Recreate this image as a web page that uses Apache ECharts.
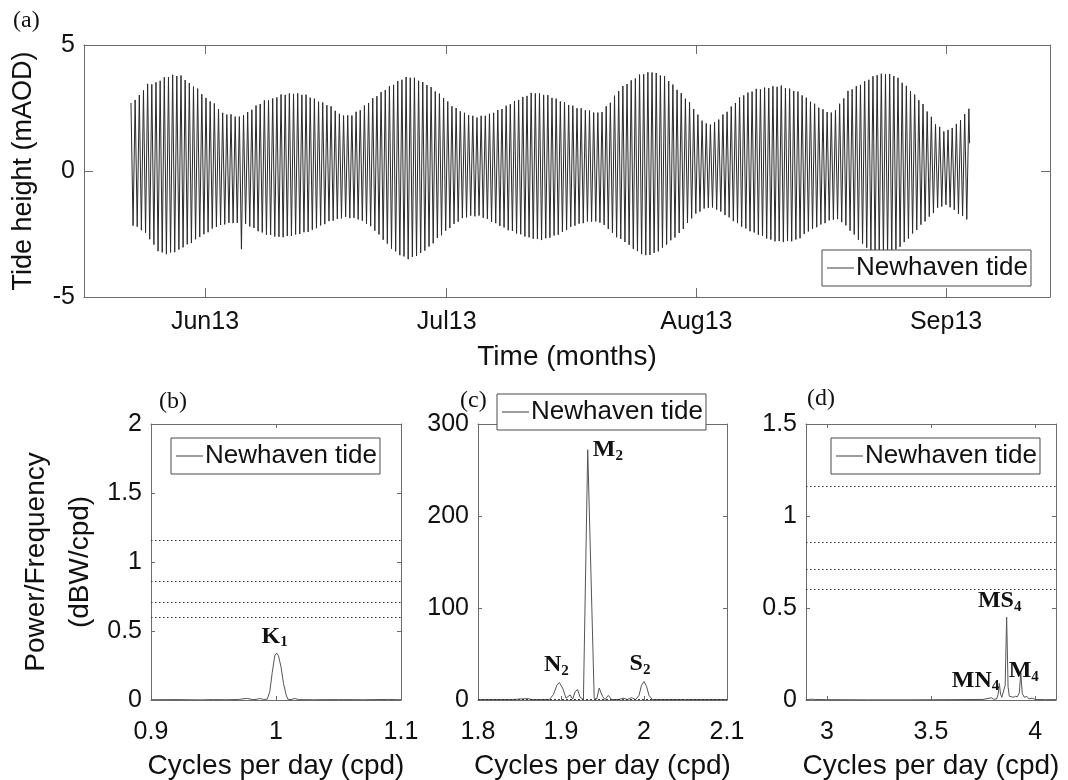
<!DOCTYPE html>
<html>
<head>
<meta charset="utf-8">
<title>Newhaven tide</title>
<script src="https://cdn.jsdelivr.net/npm/echarts@6/dist/echarts.min.js"></script>
<style>
  html, body { margin: 0; padding: 0; background: #fff; }
  #chart { width: 1068px; height: 780px; }
</style>
</head>
<body>
<div id="chart"></div>
<script>
// (a) high / low water of each tide (mAOD)
const tideHighs = [
  2.70, 2.82, 3.01, 3.20, 3.46, 3.44, 3.52, 3.58, 3.72, 3.73,
  3.82, 3.77, 3.79, 3.61, 3.49, 3.35, 3.27, 3.05, 2.90, 2.76,
  2.68, 2.46, 2.31, 2.24, 2.25, 2.16, 2.16, 2.21, 2.34, 2.43,
  2.60, 2.66, 2.80, 2.80, 2.88, 2.92, 3.04, 3.02, 3.08, 3.06,
  3.08, 3.02, 3.03, 2.91, 2.87, 2.75, 2.72, 2.61, 2.57, 2.39,
  2.27, 2.20, 2.21, 2.20, 2.35, 2.41, 2.60, 2.70, 2.89, 2.97,
  3.13, 3.21, 3.36, 3.42, 3.57, 3.62, 3.73, 3.70, 3.70, 3.58,
  3.53, 3.41, 3.33, 3.16, 3.07, 2.89, 2.76, 2.57, 2.50, 2.37,
  2.31, 2.21, 2.19, 2.12, 2.19, 2.19, 2.27, 2.31, 2.42, 2.46,
  2.59, 2.65, 2.78, 2.82, 2.94, 2.98, 3.10, 3.08, 3.08, 3.02,
  3.01, 2.90, 2.87, 2.76, 2.73, 2.62, 2.59, 2.49, 2.49, 2.41,
  2.40, 2.32, 2.32, 2.34, 2.57, 2.71, 2.99, 3.17, 3.37, 3.45,
  3.60, 3.67, 3.83, 3.84, 3.92, 3.91, 3.89, 3.79, 3.76, 3.57,
  3.43, 3.22, 3.09, 2.87, 2.73, 2.46, 2.24, 2.00, 1.89, 1.84,
  1.94, 2.04, 2.24, 2.35, 2.56, 2.70, 2.92, 3.00, 3.11, 3.15,
  3.26, 3.24, 3.31, 3.29, 3.36, 3.34, 3.39, 3.29, 3.27, 3.17,
  3.15, 3.00, 2.91, 2.75, 2.67, 2.51, 2.45, 2.34, 2.32, 2.41,
  2.67, 2.88, 3.18, 3.24, 3.37, 3.42, 3.56, 3.62, 3.76, 3.80,
  3.86, 3.84, 3.85, 3.77, 3.70, 3.50, 3.38, 3.17, 3.03, 2.81,
  2.66, 2.36, 2.15, 1.85, 1.75, 1.57, 1.63, 1.71, 1.87, 2.02,
  2.26, 2.47
];
const tideLows = [
  -2.17, -2.21, -2.35, -2.45, -2.71, -2.92, -3.18, -3.23, -3.30, -3.23,
  -3.22, -3.12, -3.03, -2.91, -2.86, -2.71, -2.62, -2.51, -2.43, -2.28,
  -2.22, -2.14, -2.12, -2.06, -2.07, -2.06, -3.10, -2.10, -2.20, -2.26,
  -2.39, -2.44, -2.53, -2.54, -2.60, -2.61, -2.63, -2.58, -2.58, -2.52,
  -2.50, -2.43, -2.42, -2.33, -2.27, -2.16, -2.11, -1.99, -1.97, -1.90,
  -1.88, -1.82, -1.87, -1.86, -1.92, -1.97, -2.09, -2.19, -2.37, -2.52,
  -2.73, -2.88, -3.08, -3.19, -3.34, -3.39, -3.50, -3.41, -3.37, -3.25,
  -3.16, -3.00, -2.87, -2.66, -2.55, -2.37, -2.26, -2.10, -2.01, -1.87,
  -1.84, -1.77, -1.80, -1.77, -1.86, -1.90, -2.02, -2.07, -2.18, -2.24,
  -2.35, -2.38, -2.48, -2.51, -2.60, -2.63, -2.69, -2.70, -2.74, -2.67,
  -2.65, -2.56, -2.53, -2.42, -2.34, -2.21, -2.17, -2.09, -2.07, -2.00,
  -2.01, -2.00, -2.05, -2.14, -2.30, -2.45, -2.63, -2.69, -2.82, -2.93,
  -3.09, -3.18, -3.30, -3.34, -3.33, -3.25, -3.19, -3.04, -2.92, -2.75,
  -2.64, -2.46, -2.30, -2.06, -1.88, -1.69, -1.61, -1.49, -1.46, -1.45,
  -1.53, -1.61, -1.75, -1.84, -1.99, -2.07, -2.21, -2.28, -2.39, -2.44,
  -2.53, -2.57, -2.68, -2.72, -2.79, -2.78, -2.82, -2.78, -2.79, -2.72,
  -2.67, -2.50, -2.40, -2.29, -2.23, -2.12, -2.07, -1.96, -1.93, -1.91,
  -2.03, -2.16, -2.37, -2.52, -2.73, -2.88, -3.04, -3.13, -3.24, -3.28,
  -3.33, -3.32, -3.26, -3.11, -3.01, -2.82, -2.68, -2.48, -2.34, -2.13,
  -2.00, -1.81, -1.67, -1.46, -1.41, -1.34, -1.44, -1.54, -1.70, -1.78,
  -1.92
];
const tideEnd = 1.1;
const firstHighDay = -9.19;      // days from 1 Jun 2013
const tidePeriod = 0.5175;       // days, semi-diurnal
const monthTicks = [0, 30, 61, 92];
const monthLabels = ["Jun13", "Jul13", "Aug13", "Sep13"];
const heightTicks = [-5, 0, 5];

// (b) diurnal band
const bFreq = [0.90, 0.92, 0.94, 0.95, 0.96, 0.97, 0.977, 0.981, 0.984, 0.987, 0.990,
  0.993, 0.995, 0.997, 0.999, 1.0005, 1.002, 1.004, 1.006, 1.008, 1.0095,
  1.012, 1.015, 1.018, 1.03, 1.05, 1.07, 1.09, 1.1];
const bPower = [0.002, 0.003, 0.001, 0.003, 0.002, 0.004, 0.012, 0.003, 0.004, 0.011, 0.004,
  0.006, 0.06, 0.2, 0.32, 0.34, 0.32, 0.24, 0.12, 0.04, 0.005,
  0.003, 0.011, 0.003, 0.002, 0.003, 0.002, 0.004, 0.002];

// (c) semi-diurnal band
const cFreq = [1.8, 1.84, 1.86, 1.865, 1.87, 1.886, 1.891, 1.895, 1.898, 1.902, 1.906,
  1.908, 1.911, 1.914, 1.917, 1.920, 1.923, 1.927, 1.9322, 1.940, 1.943,
  1.946, 1.950, 1.953, 1.957, 1.961, 1.970, 1.975, 1.980, 1.985, 1.990,
  1.994, 1.997, 2.000, 2.003, 2.006, 2.010, 2.05, 2.1];
const cPower = [0.5, 0.5, 1.5, 0.5, 0.5, 0.5, 6, 16, 19, 13, 2,
  1, 5.5, 1, 9, 11.5, 3, 0.5, 272, 2, 1,
  13, 4, 0.5, 5, 0.5, 0.5, 2, 0.5, 2.5, 0.5,
  5, 16, 20, 15, 5, 0.5, 0.5, 0.5];

// (d) quarter-diurnal band
const dFreq = [2.9, 2.925, 2.932, 2.94, 3.0, 3.2, 3.4, 3.6, 3.75, 3.79, 3.80,
  3.815, 3.822, 3.828, 3.834, 3.84, 3.848, 3.856, 3.863, 3.870, 3.876,
  3.885, 3.895, 3.905, 3.915, 3.924, 3.931, 3.938, 3.948, 3.96, 3.97,
  3.985, 4.0, 4.05, 4.1];
const dPower = [0.002, 0.004, 0.012, 0.003, 0.002, 0.001, 0.001, 0.002, 0.003, 0.012, 0.004,
  0.006, 0.03, 0.09, 0.03, 0.015, 0.02, 0.08, 0.45, 0.07, 0.02,
  0.025, 0.015, 0.02, 0.018, 0.04, 0.148, 0.035, 0.015, 0.02, 0.006,
  0.01, 0.003, 0.002, 0.002];

// dotted confidence levels drawn in each spectrum panel
const sigLevels = [1.155, 0.865, 0.715, 0.6];

const bXTicks = [0.9, 1, 1.1], bYTicks = [0, 0.5, 1, 1.5, 2];
const cXTicks = [1.8, 1.9, 2, 2.1], cYTicks = [0, 100, 200, 300];
const dXTicks = [3, 3.5, 4], dYTicks = [0, 0.5, 1, 1.5];

const panelLabels = ["(a)", "(b)", "(c)", "(d)"];

// ---- build ----
const tideData = [];
tideHighs.forEach((h, i) => {
  tideData.push([firstHighDay + i * tidePeriod, h]);
  if (i < tideLows.length) {
    tideData.push([firstHighDay + (i + 0.5) * tidePeriod, tideLows[i]]);
  }
});
tideData.push([firstHighDay + (tideHighs.length - 1 + 0.18) * tidePeriod, tideEnd]);

const zip = (xs, ys) => xs.map((x, i) => [x, ys[i]]);

const sans = "Liberation Sans";
const serif = "Liberation Serif";
const frame = "#6c6c6c";
const ink = "#111";
const SERIES = "Newhaven tide";

function xAx(grid, min, max, ticks, fmt, pos, tickLen, name, nameGap, margin) {
  const bottom = pos === "bottom";
  return {
    type: "value", gridIndex: grid, min: min, max: max, position: pos,
    axisLine: { show: true, onZero: false, lineStyle: { color: frame, width: 1 } },
    axisTick: { show: true, inside: true, length: tickLen, customValues: ticks, lineStyle: { color: frame } },
    axisLabel: bottom
      ? { show: true, customValues: ticks, formatter: fmt, margin: margin, color: ink, fontFamily: sans, fontSize: 25 }
      : { show: false },
    splitLine: { show: false },
    name: bottom ? name : "", nameLocation: "middle", nameGap: nameGap, nameMoveOverlap: false,
    nameTextStyle: { fontFamily: sans, fontSize: 28, color: ink }
  };
}

function yAx(grid, min, max, ticks, pos, tickLen, name, nameGap, nameStyle) {
  const left = pos === "left";
  return {
    type: "value", gridIndex: grid, min: min, max: max, position: pos,
    axisLine: { show: true, onZero: false, lineStyle: { color: frame, width: 1 } },
    axisTick: { show: true, inside: true, length: tickLen, customValues: ticks, lineStyle: { color: frame } },
    axisLabel: left
      ? { show: true, customValues: ticks, formatter: v => String(v), margin: 9, color: ink, fontFamily: sans, fontSize: 25 }
      : { show: false },
    splitLine: { show: false },
    name: left ? name : "", nameLocation: "middle", nameGap: nameGap, nameMoveOverlap: false,
    nameTextStyle: Object.assign({ fontFamily: sans, fontSize: 28, color: ink }, nameStyle || {})
  };
}

function legendAt(left, top) {
  return {
    left: left, top: top, orient: "horizontal", selectedMode: false,
    data: [{ name: SERIES, icon: "rect", itemStyle: { color: "#3a3a3a" } }],
    itemWidth: 27, itemHeight: 1, itemGap: 0,
    padding: [5, 3, 5, 5],
    borderColor: "#4a4a4a", borderWidth: 1, backgroundColor: "#fff",
    textStyle: { fontFamily: sans, fontSize: 26, color: ink, padding: [0, 0, 0, -3] }
  };
}

const tagRich = {
  m: { fontFamily: serif, fontWeight: "bold", fontSize: 24, color: ink },
  s: { fontFamily: serif, fontWeight: "bold", fontSize: 15, color: ink, padding: [12, 0, 0, 0] }
};
function tag(coord, main, sub, position, distance, offset) {
  return {
    coord: coord,
    label: {
      show: true, position: position, distance: distance, offset: offset || [0, 0],
      formatter: "{m|" + main + "}{s|" + sub + "}", rich: tagRich
    }
  };
}
const marks = (data) => ({ symbol: "circle", symbolSize: 0, silent: true, itemStyle: { color: "transparent" }, data: data });

const sigLines = {
  silent: true, symbol: ["none", "none"], animation: false,
  label: { show: false },
  lineStyle: { type: [1.5, 2.5], color: "#333", width: 1 },
  emphasis: { disabled: true },
  data: sigLevels.map(v => ({ yAxis: v }))
};

const spectrumLine = { width: 1, color: "#555" };
const fmtNum = v => String(v);

const option = {
  animation: false,
  backgroundColor: "#fff",
  grid: [
    { left: 84, top: 45, width: 966, height: 252, outerBoundsMode: "none" },
    { left: 151, top: 424, width: 250, height: 276, outerBoundsMode: "none" },
    { left: 478, top: 424, width: 249, height: 276, outerBoundsMode: "none" },
    { left: 806, top: 424, width: 250, height: 276, outerBoundsMode: "none" }
  ],
  xAxis: [
    xAx(0, -15.02, 104.9, monthTicks, v => monthLabels[monthTicks.indexOf(v)], "bottom", 9, "Time (months)", 46, 13),
    xAx(0, -15.02, 104.9, monthTicks, null, "top", 9),
    xAx(1, 0.9, 1.1, bXTicks, fmtNum, "bottom", 4, "Cycles per day (cpd)", 52, 20),
    xAx(1, 0.9, 1.1, bXTicks, null, "top", 4),
    xAx(2, 1.8, 2.1, cXTicks, fmtNum, "bottom", 4, "Cycles per day (cpd)", 52, 20),
    xAx(2, 1.8, 2.1, cXTicks, null, "top", 4),
    xAx(3, 2.9, 4.1, dXTicks, fmtNum, "bottom", 4, "Cycles per day (cpd)", 52, 20),
    xAx(3, 2.9, 4.1, dXTicks, null, "top", 4)
  ],
  yAxis: [
    yAx(0, -5, 5, heightTicks, "left", 9, "Tide height (mAOD)", 47, { fontSize: 27 }),
    yAx(0, -5, 5, heightTicks, "right", 9),
    yAx(1, 0, 2, bYTicks, "left", 4, "Power/Frequency\n(dBW/cpd)", 49, { lineHeight: 44 }),
    yAx(1, 0, 2, bYTicks, "right", 4),
    yAx(2, 0, 300, cYTicks, "left", 4, "", 40),
    yAx(2, 0, 300, cYTicks, "right", 4),
    yAx(3, 0, 1.5, dYTicks, "left", 4, "", 40),
    yAx(3, 0, 1.5, dYTicks, "right", 4)
  ],
  legend: [
    legendAt(822, 250),
    legendAt(171, 438),
    legendAt(497, 394),
    legendAt(831, 438)
  ],
  series: [
    {
      name: SERIES, type: "line", xAxisIndex: 0, yAxisIndex: 0,
      data: tideData, symbol: "none", showSymbol: false, sampling: null,
      lineStyle: { width: 1, color: "#2a2a2a" }, itemStyle: { color: "#2a2a2a" },
      emphasis: { disabled: true }
    },
    {
      name: SERIES, type: "line", xAxisIndex: 2, yAxisIndex: 2,
      data: zip(bFreq, bPower), symbol: "none", showSymbol: false,
      lineStyle: spectrumLine, itemStyle: { color: "#555" }, emphasis: { disabled: true },
      markLine: sigLines,
      markPoint: marks([tag([1.0005, 0.34], "K", "1", "top", 3, [-2, 0])])
    },
    {
      name: SERIES, type: "line", xAxisIndex: 4, yAxisIndex: 4,
      data: zip(cFreq, cPower), symbol: "none", showSymbol: false,
      lineStyle: spectrumLine, itemStyle: { color: "#555" }, emphasis: { disabled: true },
      markLine: sigLines,
      markPoint: marks([
        tag([1.9322, 272], "M", "2", "right", 5),
        tag([1.898, 19], "N", "2", "top", 4, [-3, 0]),
        tag([2.0, 20], "S", "2", "top", 4, [-4, 0])
      ])
    },
    {
      name: SERIES, type: "line", xAxisIndex: 6, yAxisIndex: 6,
      data: zip(dFreq, dPower), symbol: "none", showSymbol: false,
      lineStyle: spectrumLine, itemStyle: { color: "#555" }, emphasis: { disabled: true },
      markLine: sigLines,
      markPoint: marks([
        tag([3.863, 0.45], "MS", "4", "top", 3, [-7, 0]),
        tag([3.931, 0.148], "M", "4", "top", -12, [3, 0]),
        tag([3.828, 0.09], "MN", "4", "left", 0, [0, -3])
      ])
    }
  ],
  graphic: [
    { type: "text", left: 13, top: 9, style: { text: panelLabels[0], font: '24px "Liberation Serif"', fill: ink } },
    { type: "text", left: 159, top: 390, style: { text: panelLabels[1], font: '24px "Liberation Serif"', fill: ink } },
    { type: "text", left: 460, top: 389, style: { text: panelLabels[2], font: '24px "Liberation Serif"', fill: ink } },
    { type: "text", left: 807, top: 387, style: { text: panelLabels[3], font: '24px "Liberation Serif"', fill: ink } }
  ]
};

const chart = echarts.init(document.getElementById("chart"), null, { renderer: "canvas" });
chart.setOption(option);
window.addEventListener("resize", function () {
  chart.resize();
});
</script>
</body>
</html>
